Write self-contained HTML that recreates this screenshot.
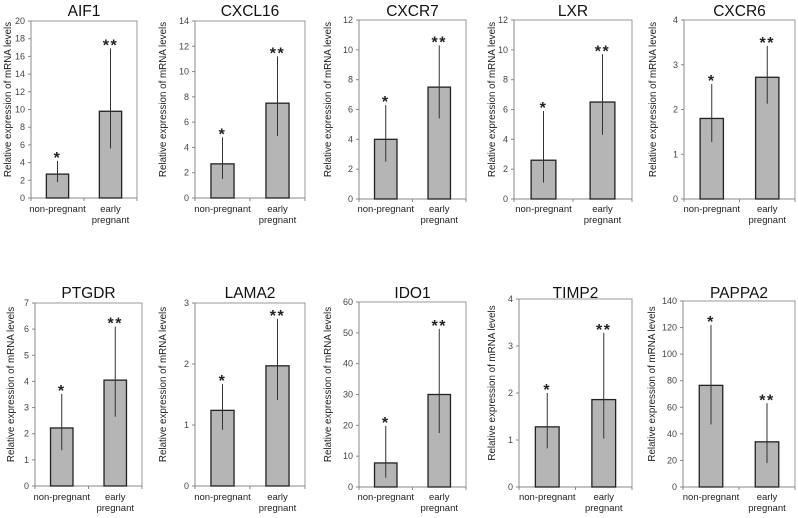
<!DOCTYPE html>
<html><head><meta charset="utf-8"><style>
html,body{margin:0;padding:0;background:#fff;}
svg{display:block;font-family:"Liberation Sans",sans-serif;}
</style></head><body>
<svg id="fig" width="798" height="518" viewBox="0 0 798 518" xmlns="http://www.w3.org/2000/svg"></svg>
<script>
const titles = ["AIF1","CXCL16","CXCR7","LXR","CXCR6","PTGDR","LAMA2","IDO1","TIMP2","PAPPA2"];
const categories = ["non-pregnant","early pregnant"];
const yMax = [20,14,12,12,4,7,3,60,4,140];
const yStep = [2,2,2,2,1,1,1,10,1,20];
const nonPregnantMean = [2.7,2.7,4.0,2.6,1.8,2.22,1.24,7.8,1.28,76.5];
const nonPregnantLow = [1.8,1.5,2.5,1.1,1.27,1.37,0.92,3,0.82,47];
const nonPregnantHigh = [4.2,4.8,6.3,5.9,2.57,3.52,1.67,19.8,2.0,122];
const earlyPregnantMean = [9.8,7.5,7.5,6.5,2.72,4.05,1.97,30,1.86,34];
const earlyPregnantLow = [5.6,4.9,5.4,4.3,2.13,2.65,1.41,17.5,1.03,18];
const earlyPregnantHigh = [16.9,11.2,10.3,9.7,3.42,6.1,2.74,51.3,3.28,63];
const stars = ["*","**"];

// layout (pixel geometry, not data)
const boxes = [
 [31,137,21,198,24],[195,305,21,198,33],[359,466,20,199,32],[514,632,20,199,23],[684,795,20,199,32],
 [35,142,303,486,25],[195,305,303,486,33],[359,466,302,487,32],[519,632,299,487,28],[683,795,301,487,32]
];
const NS="http://www.w3.org/2000/svg";
const svg=document.getElementById('fig');
function mk(tag,attrs,parent){const e=document.createElementNS(NS,tag);for(const k in attrs)e.setAttribute(k,attrs[k]);(parent||svg).appendChild(e);return e;}

titles.forEach((t,i)=>{
  const [L,R,T,B,labOff]=boxes[i];
  const g=mk('g',{});
  
  
  const y=v=>B-(v/yMax[i])*(B-T);
  const xc=k=>L+(R-L)*(k*2+1)/4;
  const row=i<5?0:1;
  const tt=mk('text',{x:(L+R)/2,y:row?298:16,'text-anchor':'middle','font-size':15.5,fill:'#111'},g);
  tt.textContent=t;
  
  
  const fr=mk('rect',{x:L,y:T,width:R-L,height:B-T,fill:'none',stroke:'#999','stroke-width':1},g);
  
  
  const ya=mk('line',{x1:L,y1:T,x2:L,y2:B,stroke:'#888','stroke-width':1},g);
  
  
  for(let v=0;v<=yMax[i]+1e-9;v+=yStep[i]){
    mk('line',{x1:L-3,x2:L,y1:y(v),y2:y(v),stroke:'#888'},g);
    const tl=mk('text',{x:L-6,y:y(v)+3,'text-anchor':'end','font-size':9,fill:'#444'},g);
    tl.textContent=v;
    
    
  }
  const xa=mk('line',{x1:L,y1:B,x2:R,y2:B,stroke:'#888','stroke-width':1},g);
  
  
  [L,(L+R)/2,R].forEach(x=>mk('line',{x1:x,x2:x,y1:B,y2:B+3,stroke:'#888'},g));
  const cy=(T+B)/2-10, lx=L-labOff+4;
  const yl=mk('text',{x:lx,y:cy,'text-anchor':'middle','font-size':9.8,fill:'#222',transform:`rotate(-90 ${lx} ${cy})`},g);
  yl.textContent="Relative expression of mRNA levels";
  
  
  const means=[nonPregnantMean[i],earlyPregnantMean[i]];
  const lows=[nonPregnantLow[i],earlyPregnantLow[i]];
  const highs=[nonPregnantHigh[i],earlyPregnantHigh[i]];
  const bw=(R-L)*0.21;
  for(let k=0;k<2;k++){
    const b=mk('rect',{x:xc(k)-bw/2,y:y(means[k]),width:bw,height:B-y(means[k]),fill:'#b5b5b5',stroke:'#222','stroke-width':1.3},g);
    
    
    const e=mk('line',{x1:xc(k),x2:xc(k),y1:y(highs[k]),y2:y(lows[k]),stroke:'#333','stroke-width':1},g);
    
    
    const s=mk('text',{x:xc(k),y:y(highs[k])+2,'text-anchor':'middle','font-size':16,'font-weight':'bold',fill:'#222','letter-spacing':1.5},g);
    s.textContent=stars[k];
    
    
    const ly=row?500:212;
    if(k===0){
      const c=mk('text',{x:xc(k),y:ly,'text-anchor':'middle','font-size':9.5,fill:'#222'},g);
      c.textContent=categories[0];
      
      
    } else {
      const parts=categories[1].split(' ');
      parts.forEach((p,j)=>{
        const c=mk('text',{x:xc(k),y:ly+j*11,'text-anchor':'middle','font-size':9.5,fill:'#222'},g);
        c.textContent=p;
        
        
      });
    }
  }
});
</script>
</body></html>
